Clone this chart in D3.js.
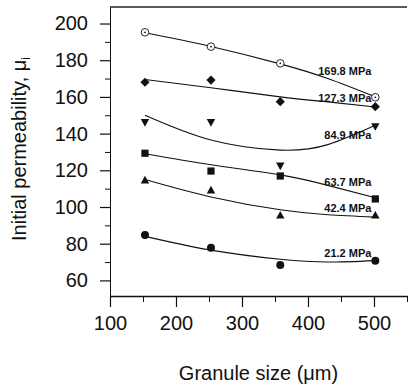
<!DOCTYPE html>
<html lang="en">
<head>
  <meta charset="UTF-8" />
  <title>Initial permeability vs granule size</title>
  <style>
    body {
      margin: 0;
      padding: 0;
      background: #fff;
    }
    svg {
      display: block;
      font-family: Arial, "Liberation Sans", sans-serif;
    }
    .tick text {
      font-size: 20px;
      fill: #111;
    }
    .tick line, .domain {
      stroke: #111;
    }
    .series-label {
      font-size: 11px;
      font-weight: bold;
      fill: #111;
    }
  </style>
</head>
<body>
  <svg id="chart"></svg>

  <script src="https://cdn.jsdelivr.net/npm/d3@7"></script>
  <script>
    // granule sizes (um) where the samples were measured
    const sizes = [153, 253, 358, 502];

    // compaction pressures, one series each
    const pressures = ["169.8 MPa", "127.3 MPa", "84.9 MPa", "63.7 MPa", "42.4 MPa", "21.2 MPa"];

    // measured initial permeability
    const mu169 = [195.2, 187.4, 178.3, 159.8];
    const mu127 = [168.0, 169.2, 157.4, 154.7];
    const mu85  = [146.0, 146.0, 122.3, 143.8];
    const mu64  = [129.3, 119.6, 116.9, 104.4];
    const mu42  = [114.7, 109.3, 95.6, 95.6];
    const mu21  = [84.7, 77.8, 68.4, 70.7];

    // fitted curves
    const fitSizes = [153, 253, 358, 430, 502];
    const fit169 = [195.0, 187.5, 178.0, 170.0, 160.0];
    const fit127 = [169.5, 165.0, 160.0, 157.3, 154.5];
    const fit85  = [150.0, 136.5, 131.0, 134.0, 144.5];
    const fit64  = [129.0, 123.0, 117.5, 111.8, 105.0];
    const fit42  = [115.0, 105.5, 98.5, 95.8, 94.5];
    const fit21  = [84.0, 76.5, 71.5, 70.0, 70.8];

    // where each pressure label sits (granule size, permeability at baseline)
    const labelSize = 496;
    const labelMu = [172.0, 157.2, 137.0, 111.4, 97.4, 72.8];

    const xTicks = [100, 200, 300, 400, 500];
    const xMinor = [150, 250, 350, 450, 550];
    const yTicks = [60, 80, 100, 120, 140, 160, 180, 200];
    const yMinor = [70, 90, 110, 130, 150, 170, 190];

    const measured = [mu169, mu127, mu85, mu64, mu42, mu21];
    const fits = [fit169, fit127, fit85, fit64, fit42, fit21];
    const symbols = ["dotcircle", "diamond", "down", "square", "up", "circle"];

    const width = 408, height = 387;
    const svg = d3.select("#chart").attr("width", width).attr("height", height);

    const x = d3.scaleLinear().domain([100, 550]).range([110, 407]);
    const y = d3.scaleLinear().domain([51.5, 209]).range([296, 7]);

    // frame: top edge only (right edge is off the scan)
    svg.append("line")
      .attr("x1", x(100)).attr("x2", x(550))
      .attr("y1", y(209)).attr("y2", y(209))
      .attr("stroke", "#222").attr("stroke-width", 1.6);

    // x axis
    const xAxis = svg.append("g")
      .attr("transform", `translate(0,${y(51.5)})`)
      .call(d3.axisBottom(x).tickValues(xTicks).tickSize(11).tickPadding(9).tickSizeOuter(0));
    xAxis.select(".domain").attr("stroke-width", 1.6);
    xAxis.selectAll(".tick line").attr("stroke-width", 1.2);
    svg.append("g")
      .attr("transform", `translate(0,${y(51.5)})`)
      .call(d3.axisBottom(x).tickValues(xMinor).tickSize(6).tickFormat(""))
      .call(g => g.select(".domain").remove());

    // y axis
    const yAxis = svg.append("g")
      .attr("transform", `translate(${x(100)},0)`)
      .call(d3.axisLeft(y).tickValues(yTicks).tickSize(10).tickPadding(12).tickSizeOuter(0));
    yAxis.select(".domain").attr("stroke-width", 1);
    yAxis.selectAll(".tick line").attr("stroke-width", 1.2);
    svg.append("g")
      .attr("transform", `translate(${x(100)},0)`)
      .call(d3.axisLeft(y).tickValues(yMinor).tickSize(5).tickFormat(""))
      .call(g => g.select(".domain").remove());

    // axis titles
    svg.append("text")
      .attr("x", (x(100) + x(550)) / 2)
      .attr("y", 380)
      .attr("text-anchor", "middle")
      .attr("font-size", "20px")
      .attr("fill", "#111")
      .text("Granule size (\u03bcm)");

    const yTitle = svg.append("text")
      .attr("transform", "translate(26,149) rotate(-90)")
      .attr("text-anchor", "middle")
      .attr("font-size", "20px")
      .attr("fill", "#111");
    yTitle.append("tspan").text("Initial permeability, \u03bc");
    yTitle.append("tspan").attr("font-size", "12px").attr("dy", 4).text("i");

    // fitted curves
    const line = d3.line()
      .x((d, i) => x(fitSizes[i]))
      .y(d => y(d))
      .curve(d3.curveNatural);

    fits.forEach(f => {
      svg.append("path")
        .attr("d", line(f))
        .attr("fill", "none")
        .attr("stroke", "#111")
        .attr("stroke-width", 1.1);
    });

    // markers
    function drawMarker(g, kind) {
      if (kind === "dotcircle") {
        g.append("circle").attr("r", 3.8).attr("fill", "#fff").attr("stroke", "#111").attr("stroke-width", 0.9);
        g.append("circle").attr("r", 0.9).attr("fill", "#111");
      } else if (kind === "circle") {
        g.append("circle").attr("r", 4).attr("fill", "#111");
      } else if (kind === "square") {
        g.append("rect").attr("x", -3.6).attr("y", -3.6).attr("width", 7.2).attr("height", 7.2).attr("fill", "#111");
      } else if (kind === "diamond") {
        g.append("path").attr("d", "M0,-4.6L4.6,0L0,4.6L-4.6,0Z").attr("fill", "#111");
      } else if (kind === "up") {
        g.append("path").attr("d", "M0,-4.2L4.2,3.5L-4.2,3.5Z").attr("fill", "#111");
      } else if (kind === "down") {
        g.append("path").attr("d", "M0,4.2L4.2,-3.5L-4.2,-3.5Z").attr("fill", "#111");
      }
    }

    measured.forEach((vals, s) => {
      vals.forEach((v, i) => {
        const g = svg.append("g").attr("transform", `translate(${x(sizes[i])},${y(v)})`);
        drawMarker(g, symbols[s]);
      });
    });

    // pressure labels
    pressures.forEach((p, i) => {
      svg.append("text")
        .attr("class", "series-label")
        .attr("x", x(labelSize))
        .attr("y", y(labelMu[i]))
        .attr("text-anchor", "end")
        .text(p);
    });
  </script>
</body>
</html>
